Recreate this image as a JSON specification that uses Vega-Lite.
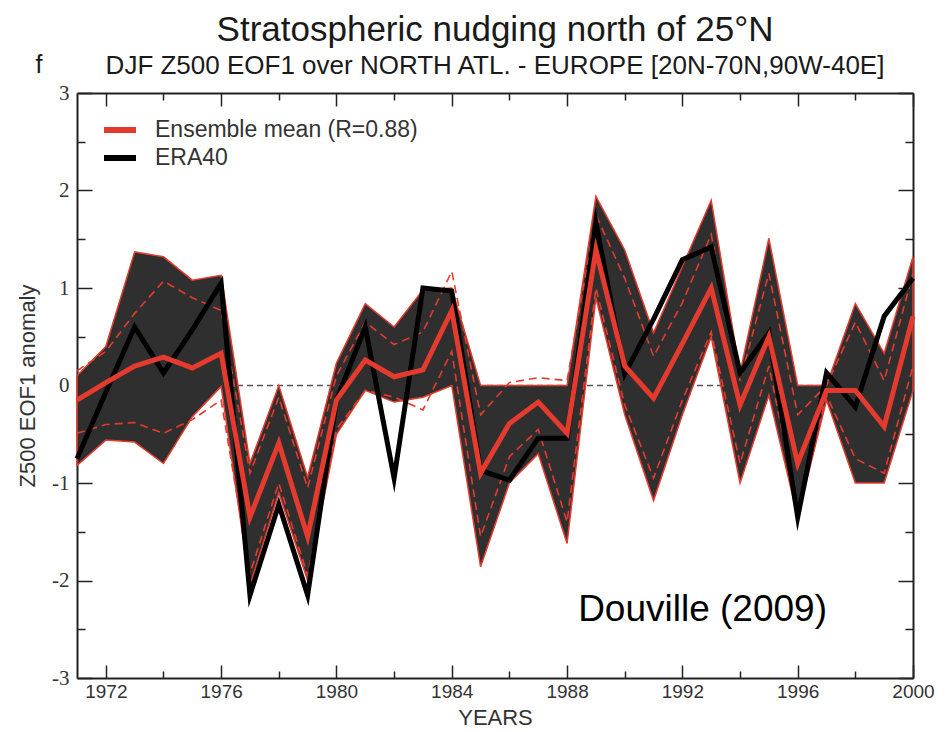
{
  "$schema": "https://vega.github.io/schema/vega-lite/v6.json",
  "autosize": "none",
  "width": 836,
  "height": 585,
  "padding": {"left": 77, "top": 93, "right": 36, "bottom": 54},
  "background": "white",
  "config": {
    "view": {"stroke": null},
    "font": "Liberation Sans",
    "legend": {
      "title": null,
      "orient": "none",
      "symbolType": "stroke",
      "symbolSize": 1024,
      "symbolStrokeWidth": 6,
      "labelFont": "Liberation Sans",
      "labelFontSize": 23,
      "labelColor": "#333333",
      "labelLimit": 500,
      "labelOffset": 16,
      "padding": 0
    }
  },
  "title": {
    "text": "Stratospheric nudging north of 25°N",
    "subtitle": "DJF Z500 EOF1 over NORTH ATL. - EUROPE [20N-70N,90W-40E]",
    "font": "Liberation Sans",
    "subtitleFont": "Liberation Sans",
    "fontSize": 35,
    "subtitleFontSize": 26,
    "fontWeight": "normal",
    "color": "#1a1a1a",
    "subtitleColor": "#1a1a1a",
    "anchor": "middle",
    "offset": -27,
    "subtitlePadding": 5
  },
  "data": {
    "values": [
      {"year": 1971, "era": -0.75, "mean": -0.15, "hi": 0.10, "lo": -0.82, "sdhi": 0.15, "sdlo": -0.49},
      {"year": 1972, "era": -0.07, "mean": 0.03, "hi": 0.40, "lo": -0.56, "sdhi": 0.35, "sdlo": -0.40},
      {"year": 1973, "era": 0.60, "mean": 0.20, "hi": 1.37, "lo": -0.58, "sdhi": 0.74, "sdlo": -0.38},
      {"year": 1974, "era": 0.13, "mean": 0.29, "hi": 1.32, "lo": -0.80, "sdhi": 1.07, "sdlo": -0.49},
      {"year": 1975, "era": 0.57, "mean": 0.18, "hi": 1.08, "lo": -0.32, "sdhi": 0.90, "sdlo": -0.35},
      {"year": 1976, "era": 1.05, "mean": 0.33, "hi": 1.13, "lo": -0.01, "sdhi": 0.77, "sdlo": -0.15},
      {"year": 1977, "era": -2.15, "mean": -1.35, "hi": -0.80, "lo": -2.05, "sdhi": -0.90, "sdlo": -1.93},
      {"year": 1978, "era": -1.22, "mean": -0.59, "hi": 0.00, "lo": -1.10, "sdhi": -0.12, "sdlo": -1.00},
      {"year": 1979, "era": -2.15, "mean": -1.55, "hi": -0.94, "lo": -2.00, "sdhi": -1.05, "sdlo": -1.95},
      {"year": 1980, "era": -0.15, "mean": -0.15, "hi": 0.23, "lo": -0.50, "sdhi": 0.10, "sdlo": -0.45},
      {"year": 1981, "era": 0.60, "mean": 0.26, "hi": 0.84, "lo": -0.05, "sdhi": 0.65, "sdlo": -0.05},
      {"year": 1982, "era": -0.95, "mean": 0.09, "hi": 0.60, "lo": -0.17, "sdhi": 0.42, "sdlo": -0.12},
      {"year": 1983, "era": 1.00, "mean": 0.16, "hi": 0.98, "lo": -0.12, "sdhi": 0.55, "sdlo": -0.25},
      {"year": 1984, "era": 0.97, "mean": 0.77, "hi": 1.00, "lo": 0.00, "sdhi": 1.17, "sdlo": 0.35},
      {"year": 1985, "era": -0.87, "mean": -0.90, "hi": 0.00, "lo": -1.86, "sdhi": -0.30, "sdlo": -1.55},
      {"year": 1986, "era": -0.97, "mean": -0.39, "hi": 0.00, "lo": -1.00, "sdhi": 0.03, "sdlo": -0.73},
      {"year": 1987, "era": -0.54, "mean": -0.17, "hi": 0.00, "lo": -0.70, "sdhi": 0.08, "sdlo": -0.45},
      {"year": 1988, "era": -0.54, "mean": -0.49, "hi": 0.00, "lo": -1.62, "sdhi": 0.05, "sdlo": -1.40},
      {"year": 1989, "era": 1.67, "mean": 1.39, "hi": 1.94, "lo": 0.90, "sdhi": 1.75, "sdlo": 1.00},
      {"year": 1990, "era": 0.12, "mean": 0.20, "hi": 1.39, "lo": -0.30, "sdhi": 1.10, "sdlo": -0.20},
      {"year": 1991, "era": 0.68, "mean": -0.13, "hi": 0.54, "lo": -1.18, "sdhi": 0.30, "sdlo": -0.95},
      {"year": 1992, "era": 1.29, "mean": 0.43, "hi": 1.22, "lo": -0.30, "sdhi": 0.85, "sdlo": -0.15},
      {"year": 1993, "era": 1.42, "mean": 1.00, "hi": 1.90, "lo": 0.50, "sdhi": 1.55, "sdlo": 0.55},
      {"year": 1994, "era": 0.13, "mean": -0.20, "hi": 0.13, "lo": -1.00, "sdhi": 0.05, "sdlo": -0.80},
      {"year": 1995, "era": 0.54, "mean": 0.50, "hi": 1.51, "lo": -0.10, "sdhi": 1.15, "sdlo": 0.20},
      {"year": 1996, "era": -1.35, "mean": -0.80, "hi": 0.00, "lo": -1.35, "sdhi": -0.30, "sdlo": -1.25},
      {"year": 1997, "era": 0.13, "mean": -0.05, "hi": 0.00, "lo": -0.15, "sdhi": 0.00, "sdlo": -0.10},
      {"year": 1998, "era": -0.22, "mean": -0.05, "hi": 0.84, "lo": -1.00, "sdhi": 0.65, "sdlo": -0.75},
      {"year": 1999, "era": 0.71, "mean": -0.42, "hi": 0.33, "lo": -1.00, "sdhi": 0.05, "sdlo": -0.90},
      {"year": 2000, "era": 1.10, "mean": 0.71, "hi": 1.32, "lo": -0.05, "sdhi": 1.15, "sdlo": 0.20}
    ]
  },
  "resolve": {
    "axis": {"x": "independent", "y": "independent"},
    "scale": {"color": "independent"},
    "legend": {"color": "independent"}
  },
  "layer": [
    {
      "data": {"values": [{}]},
      "mark": {"type": "rule", "stroke": "#555555", "strokeWidth": 1.5, "strokeDash": [6, 4]},
      "encoding": {
        "y": {"datum": 0, "type": "quantitative", "scale": {"domain": [-3, 3], "nice": false}, "axis": null}
      }
    },
    {
      "mark": {"type": "area", "fill": "#2f2f2f", "stroke": "#e53b2e", "strokeWidth": 1.5},
      "encoding": {
        "x": {
          "field": "year", "type": "quantitative",
          "scale": {"domain": [1971, 2000], "nice": false, "zero": false},
          "axis": {
            "orient": "bottom",
            "values": [1972, 1974, 1976, 1978, 1980, 1982, 1984, 1986, 1988, 1990, 1992, 1994, 1996, 1998, 2000],
            "labelExpr": "datum.value % 4 === 0 ? '' + datum.value : ''",
            "tickSize": -13,
            "tickDash": {"condition": {"test": "datum.value % 4 !== 0", "value": [7, 40]}, "value": [40, 0]},
            "tickColor": "#222222", "tickWidth": 1.5,
            "domainColor": "#222222", "domainWidth": 2,
            "labelFont": "Liberation Sans", "labelFontSize": 19, "labelColor": "#333333",
            "labelPadding": 17, "labelFlush": false, "labelOverlap": false,
            "grid": false,
            "title": "YEARS", "titleFont": "Liberation Sans", "titleFontSize": 22,
            "titleFontWeight": "normal", "titleColor": "#333333", "titlePadding": 6
          }
        },
        "y": {
          "field": "lo", "type": "quantitative",
          "scale": {"domain": [-3, 3], "nice": false},
          "axis": {
            "orient": "left",
            "values": [-3, -2.5, -2, -1.5, -1, -0.5, 0, 0.5, 1, 1.5, 2, 2.5, 3],
            "labelExpr": "datum.value % 1 === 0 ? '' + datum.value : ''",
            "tickSize": -15,
            "tickDash": {"condition": {"test": "datum.value % 1 !== 0", "value": [8, 40]}, "value": [40, 0]},
            "tickColor": "#222222", "tickWidth": 1.5,
            "domainColor": "#222222", "domainWidth": 2,
            "labelFont": "Liberation Serif", "labelFontSize": 21, "labelColor": "#333333",
            "labelPadding": 23, "labelFlush": false, "labelOverlap": false,
            "grid": false,
            "title": "Z500 EOF1 anomaly", "titleFont": "Liberation Sans", "titleFontSize": 22,
            "titleFontWeight": "normal", "titleColor": "#333333", "titlePadding": 12
          }
        },
        "y2": {"field": "hi"}
      }
    },
    {
      "transform": [{"fold": ["sdhi", "sdlo"], "as": ["bound", "value"]}],
      "mark": {"type": "line", "stroke": "#e53b2e", "strokeWidth": 1.6, "strokeDash": [8, 5]},
      "encoding": {
        "x": {
          "field": "year", "type": "quantitative",
          "scale": {"domain": [1971, 2000], "nice": false, "zero": false},
          "axis": {
            "orient": "top",
            "values": [1972, 1974, 1976, 1978, 1980, 1982, 1984, 1986, 1988, 1990, 1992, 1994, 1996, 1998, 2000],
            "labels": false,
            "tickSize": -13,
            "tickDash": {"condition": {"test": "datum.value % 4 !== 0", "value": [7, 40]}, "value": [40, 0]},
            "tickColor": "#222222", "tickWidth": 1.5,
            "domainColor": "#222222", "domainWidth": 2,
            "grid": false, "title": null
          }
        },
        "y": {
          "field": "value", "type": "quantitative",
          "scale": {"domain": [-3, 3], "nice": false},
          "axis": {
            "orient": "right",
            "values": [-3, -2.5, -2, -1.5, -1, -0.5, 0, 0.5, 1, 1.5, 2, 2.5, 3],
            "labels": false,
            "tickSize": -15,
            "tickDash": {"condition": {"test": "datum.value % 1 !== 0", "value": [8, 40]}, "value": [40, 0]},
            "tickColor": "#222222", "tickWidth": 1.5,
            "domainColor": "#222222", "domainWidth": 2,
            "grid": false,
            "title": "f", "titleAngle": 0, "titleX": -878, "titleY": -21,
            "titleAlign": "left", "titleBaseline": "alphabetic",
            "titleFont": "Liberation Sans", "titleFontSize": 25, "titleFontWeight": "normal",
            "titleColor": "#1a1a1a"
          }
        },
        "detail": {"field": "bound"}
      }
    },
    {
      "mark": {"type": "line", "strokeWidth": 5, "strokeJoin": "miter", "strokeMiterLimit": 10},
      "encoding": {
        "x": {"field": "year", "type": "quantitative", "scale": {"domain": [1971, 2000], "nice": false, "zero": false}, "axis": null},
        "y": {"field": "era", "type": "quantitative", "scale": {"domain": [-3, 3], "nice": false}, "axis": null},
        "color": {
          "datum": "ERA40", "type": "nominal",
          "scale": {"range": ["#000000"]},
          "legend": {"legendX": 24, "legendY": 46}
        }
      }
    },
    {
      "mark": {"type": "line", "strokeWidth": 5, "strokeJoin": "miter", "strokeMiterLimit": 10},
      "encoding": {
        "x": {"field": "year", "type": "quantitative", "scale": {"domain": [1971, 2000], "nice": false, "zero": false}, "axis": null},
        "y": {"field": "mean", "type": "quantitative", "scale": {"domain": [-3, 3], "nice": false}, "axis": null},
        "color": {
          "datum": "Ensemble mean (R=0.88)", "type": "nominal",
          "scale": {"range": ["#e53b2e"]},
          "legend": {"legendX": 24, "legendY": 18}
        }
      }
    },
    {
      "data": {"values": [{}]},
      "mark": {"type": "text", "text": "Douville (2009)", "font": "Liberation Sans", "fontSize": 37, "fill": "#000000", "align": "center", "baseline": "middle"},
      "encoding": {
        "x": {"datum": 1992.7, "type": "quantitative", "scale": {"domain": [1971, 2000], "nice": false, "zero": false}, "axis": null},
        "y": {"datum": -2.3, "type": "quantitative", "scale": {"domain": [-3, 3], "nice": false}, "axis": null}
      }
    }
  ]
}
